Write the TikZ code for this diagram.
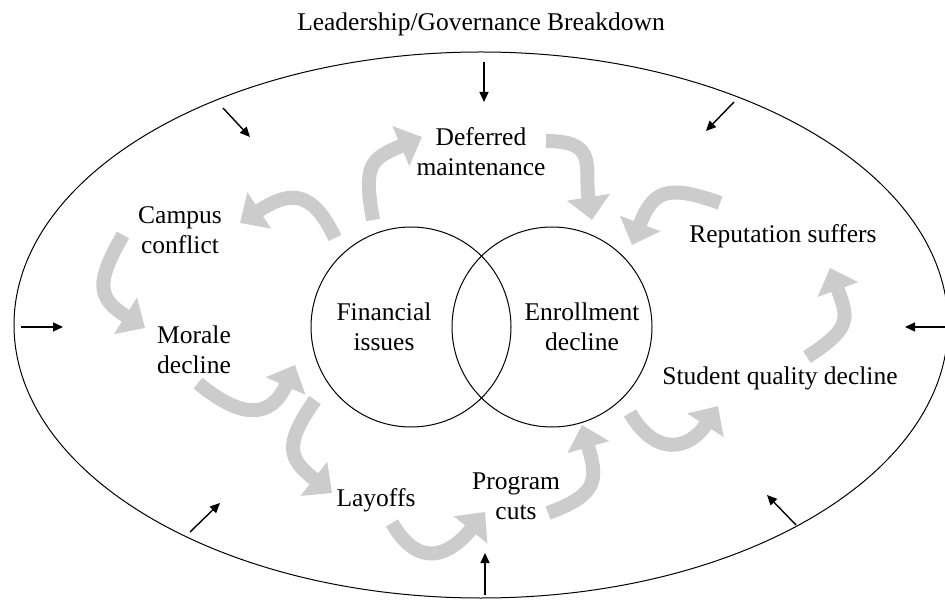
\documentclass[tikz,border=0pt]{standalone}
\usepackage{fontspec}
\setmainfont{Liberation Serif}
\usetikzlibrary{arrows.meta}
\definecolor{loopgray}{gray}{0.8}
\begin{document}
\begin{tikzpicture}[x=1pt, y=1pt,
  txt/.style={align=center, font=\fontsize{25.5}{30}\selectfont},
  ring/.style={draw, circle, line width=1pt, minimum size=200pt, inner sep=0pt},
  push/.style={line width=1.4pt, -{Triangle[length=10pt,width=9pt]}},
  turn/.style={loopgray, line width=14pt, -{Triangle[length=23pt,width=42pt]}, looseness=1.5}]
\useasboundingbox (0,0) rectangle (945,-601);
\node[txt] (title) at (481,-24) {Leadership/Governance Breakdown};
\draw[line width=1pt] (481,-325) ellipse [x radius=467, y radius=273];
\node[ring] (fin) at (411,-327) {};
\node[ring] (enr) at (552,-327) {};
\node[txt] (finlbl) at (384,-327) {Financial\\issues};
\node[txt] (enrlbl) at (582,-327) {Enrollment\\decline};
\node[txt] (defer) at (481,-152) {Deferred\\maintenance};
\node[txt] (campus) at (180,-230) {Campus\\conflict};
\node[txt] (morale) at (194,-350) {Morale\\decline};
\node[txt] (layoffs) at (376,-500) {Layoffs};
\node[txt] (cuts) at (516,-496) {Program\\cuts};
\node[txt] (quality) at (780,-378) {Student quality decline};
\node[txt] (repute) at (783,-236) {Reputation suffers};
% ends of the grey loop arrows
\coordinate (fcs) at (335,-238); \coordinate (fce) at (240,-223);
\coordinate (fds) at (373,-220); \coordinate (fde) at (422,-137);
\coordinate (des) at (546,-141); \coordinate (dee) at (592,-220);
\coordinate (res) at (720,-203); \coordinate (ree) at (632,-245);
\coordinate (sqs) at (807,-357); \coordinate (sqe) at (830,-268);
\coordinate (ess) at (630,-413); \coordinate (ese) at (718,-406);
\coordinate (pcs) at (548,-513); \coordinate (pce) at (582,-425);
\coordinate (lps) at (392,-523); \coordinate (lpe) at (485,-512);
\coordinate (fls) at (315,-400); \coordinate (fle) at (332,-493);
\coordinate (mfs) at (198,-383); \coordinate (mfe) at (295,-365);
\coordinate (cms) at (123,-235); \coordinate (cme) at (145,-328);
\draw[turn] (fcs) to[out=115, in=33] (fce);
\draw[turn] (fds) to[out=100, in=203] (fde);
\draw[turn] (des) to[out=0, in=99] (dee);
\draw[turn] (res) to[out=160, in=69] (ree);
\draw[turn] (sqs) to[out=33, in=290] (sqe);
\draw[turn] (ess) to[out=300, in=237] (ese);
\draw[turn] (pcs) to[out=20, in=286] (pce);
\draw[turn] (lps) to[out=300, in=231] (lpe);
\draw[turn] (fls) to[out=235, in=142] (fle);
\draw[turn] (mfs) to[out=320, in=246] (mfe);
\draw[turn] (cms) to[out=240, in=148] (cme);
% outside pressure arrows
\coordinate (p1s) at (484,-62); \coordinate (p1e) at (484,-102);
\coordinate (p2s) at (223,-108); \coordinate (p2e) at (250,-137);
\coordinate (p3s) at (734,-102); \coordinate (p3e) at (706,-131);
\coordinate (p4s) at (21,-327); \coordinate (p4e) at (63,-327);
\coordinate (p5s) at (946,-327); \coordinate (p5e) at (905,-327);
\coordinate (p6s) at (190,-532); \coordinate (p6e) at (220,-503);
\coordinate (p7s) at (796,-525); \coordinate (p7e) at (767,-495);
\coordinate (p8s) at (485,-595); \coordinate (p8e) at (485,-553);
\foreach \i in {1,...,8}
  \draw[push] (p\i s) -- (p\i e);
\end{tikzpicture}
\end{document}
